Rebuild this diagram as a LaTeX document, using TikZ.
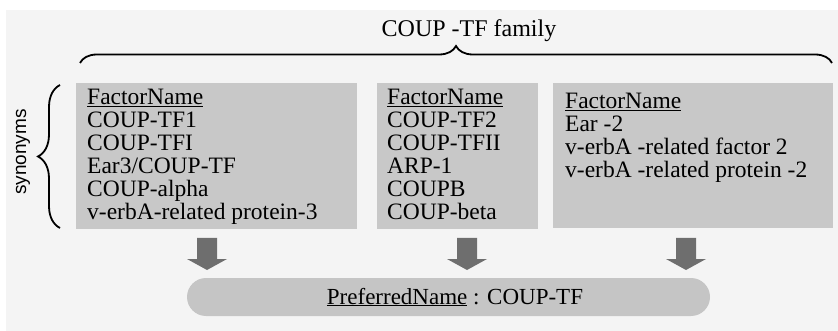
\documentclass[tikz,border=0pt]{standalone}
\usepackage{fontspec}
\setmainfont{Liberation Serif}
\newfontfamily\serf{Liberation Serif}
\newfontfamily\sansf{Liberation Sans}
\usetikzlibrary{decorations.pathreplacing,calc}
\definecolor{bg}{RGB}{244,244,244}
\definecolor{boxg}{RGB}{200,200,200}
\definecolor{barg}{RGB}{197,197,197}
\definecolor{arrg}{RGB}{110,110,110}
\newcommand{\dnarrow}[1]{\fill[arrg] (#1-10,238) -- (#1+10,238) -- (#1+10,259) -- (#1+20,259) -- (#1,270) -- (#1-20,259) -- (#1-10,259) -- cycle;}
\begin{document}
\begin{tikzpicture}[x=1pt,y=-1pt,
  txt/.style={anchor=base west, inner sep=0pt, font=\serf\fontsize{23.5}{23}\selectfont},
  fbox/.style={fill=boxg, draw=none, inner sep=0pt, anchor=north west},
  bracestyle/.style={decorate, line width=1.8pt, black}]
\useasboundingbox (0,0) rectangle (838,331);
\fill[bg] (6,10) rectangle (838,331);
% title and top brace
\node[inner sep=0pt, font=\serf\fontsize{24}{24}\selectfont] (title) at (469,31) {COUP -TF family};
\draw[bracestyle, decoration={brace, amplitude=17}] (80,63) -- (832,63);
% left brace and label
\draw[bracestyle, decoration={brace, amplitude=22}] (60,228) -- (60,85);
\node[rotate=90, inner sep=0pt, font=\sansf\fontsize{19}{19}\selectfont] (syn) at (23,152) {synonyms};
% boxes
\node[fbox, minimum width=281, minimum height=146] (box1) at (76,83) {};
\node[fbox, minimum width=161, minimum height=146] (box2) at (377,83) {};
\node[fbox, minimum width=280, minimum height=145] (box3) at (553,83) {};
% box 1 text
\node[txt] (a1) at (87,105) {\underline{FactorName}};
\node[txt] (a2) at (87,128) {COUP-TF1};
\node[txt] (a3) at (87,151) {COUP-TFI};
\node[txt] (a4) at (87,174) {Ear3/COUP-TF};
\node[txt] (a5) at (87,197) {COUP-alpha};
\node[txt] (a6) at (87,220) {v-erbA-related protein-3};
% box 2 text
\node[txt] (b1) at (387,105) {\underline{FactorName}};
\node[txt] (b2) at (387,128) {COUP-TF2};
\node[txt] (b3) at (387,151) {COUP-TFII};
\node[txt] (b4) at (387,174) {ARP-1};
\node[txt] (b5) at (387,197) {COUPB};
\node[txt] (b6) at (387,220) {COUP-beta};
% box 3 text
\node[txt] (c1) at (565,109) {\underline{FactorName}};
\node[txt] (c2) at (565,132) {Ear -2};
\node[txt] (c3) at (565,155) {v-erbA -related factor 2};
\node[txt] (c4) at (565,178) {v-erbA -related protein -2};
% arrows
\dnarrow{207}
\dnarrow{467}
\dnarrow{686}
% preferred name bar
\node[fill=barg, rounded corners=19pt, minimum width=523, minimum height=38, inner sep=0pt] (bar) at (448.5,297) {};
\node[inner sep=0pt, anchor=base, font=\serf\fontsize{23}{23}\selectfont] (pref) at (455,304) {\underline{PreferredName} : COUP-TF};
\end{tikzpicture}
\end{document}
